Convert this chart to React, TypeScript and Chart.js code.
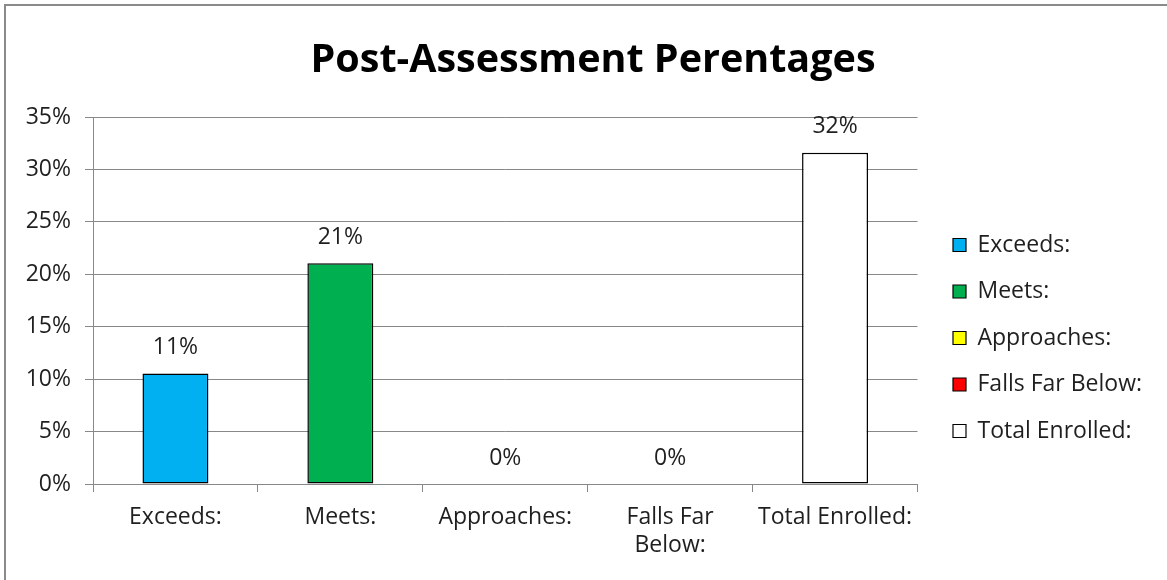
import React, { useEffect, useRef } from "react";
import { Chart, registerables } from "chart.js";

Chart.register(...registerables);

const categories = ["Exceeds:", "Meets:", "Approaches:", "Falls Far Below:", "Total Enrolled:"];
const tickLabels: (string | string[])[] = ["Exceeds:", "Meets:", "Approaches:", ["Falls Far", "Below:"], "Total Enrolled:"];
const values = [0.1053, 0.2105, 0, 0, 0.3158];
const barColors = ["#00B0F0", "#00B050", "#FFFF00", "#FF0000", "#FFFFFF"];
const yTicks = [0, 0.05, 0.1, 0.15, 0.2, 0.25, 0.3, 0.35];
const titleText = "Post-Assessment Perentages";

const FONT = "'Open Sans', 'Noto Sans', sans-serif";
const TEXT_SIZE = 23;
const TEXT_COLOR = "#1f1f1f";

const valueLabels = {
  id: "valueLabels",
  afterDatasetsDraw(chart: any) {
    const ctx = chart.ctx;
    const meta = chart.getDatasetMeta(0);
    ctx.save();
    ctx.font = `${TEXT_SIZE}px ${FONT}`;
    ctx.fillStyle = TEXT_COLOR;
    ctx.textAlign = "center";
    ctx.textBaseline = "middle";
    meta.data.forEach((bar: any, i: number) => {
      const v = values[i];
      ctx.fillText(Math.round(v * 100) + "%", bar.x, bar.y - 26);
    });
    ctx.restore();
  },
};

const boxShift = {
  id: "boxShift",
  afterLayout(chart: any) {
    const lg = chart.legend;
    if (lg) {
      lg.left += 12;
      lg.right += 12;
      lg.top += 2;
      lg.bottom += 2;
    }
    const tb = chart.titleBlock;
    if (tb) {
      tb.left += 23;
      tb.right += 23;
    }
  },
};

export default function App() {
  const ref = useRef<HTMLCanvasElement | null>(null);
  useEffect(() => {
    if (!ref.current) return;
    const chart = new Chart(ref.current, {
      type: "bar",
      data: {
        labels: tickLabels as any,
        datasets: [
          {
            data: values,
            backgroundColor: barColors,
            borderColor: "#000000",
            borderWidth: 1.5,
            borderSkipped: false,
            barPercentage: 0.4,
            categoryPercentage: 1,
          },
        ],
      },
      plugins: [valueLabels, boxShift],
      options: {
        animation: false,
        responsive: false,
        maintainAspectRatio: false,
        layout: { padding: { left: 0, right: 27, top: 0, bottom: 0 } },
        plugins: {
          title: {
            display: true,
            text: titleText,
            color: "#000",
            font: { family: FONT, size: 39.5, weight: "bold" },
            padding: { top: 37, bottom: 32.6 },
          },
          legend: {
            display: true,
            position: "right",
            title: {
              display: true,
              text: " ",
              font: { size: 10 },
              padding: { top: 80, bottom: 0 },
            },
            labels: {
              color: TEXT_COLOR,
              font: { family: FONT, size: TEXT_SIZE },
              boxWidth: 13,
              boxHeight: 13,
              padding: 23.5,
              generateLabels: () =>
                categories.map((c, i) => ({
                  text: c,
                  fillStyle: barColors[i],
                  strokeStyle: "#000",
                  fontColor: TEXT_COLOR,
                  lineWidth: 1.2,
                  hidden: false,
                  index: i,
                  datasetIndex: 0,
                })),
            },
          },
          tooltip: { enabled: false },
        },
        scales: {
          x: {
            afterFit: (scale: any) => {
              scale.height = 96;
            },
            grid: {
              offset: true,
              drawOnChartArea: false,
              drawTicks: true,
              tickLength: 8,
              color: "#888",
            },
            border: { color: "#888", width: 1 },
            ticks: {
              color: TEXT_COLOR,
              font: { family: FONT, size: TEXT_SIZE },
              padding: 12,
              maxRotation: 0,
              autoSkip: false,
            },
          },
          y: {
            min: 0,
            max: 0.35,
            afterBuildTicks: (scale: any) => {
              scale.ticks = yTicks.map((v) => ({ value: v }));
            },
            afterFit: (scale: any) => {
              scale.width = 93;
            },
            grid: { color: "#888", tickLength: 8, lineWidth: 1 },
            border: { color: "#888", width: 1 },
            ticks: {
              color: TEXT_COLOR,
              font: { family: FONT, size: TEXT_SIZE },
              padding: 14,
              callback: (v: any) => Math.round(Number(v) * 100) + "%",
            },
          },
        },
      },
    });
    return () => chart.destroy();
  }, []);
  return (
    <div style={{ position: "fixed", left: 0, top: 0, width: 1167, height: 580, background: "#fff" }}>
      <canvas ref={ref} width={1167} height={580} style={{ position: "absolute", left: 0, top: 0 }} />
      <div
        style={{
          position: "absolute",
          left: 4,
          top: 4,
          right: 0,
          bottom: 0,
          borderTop: "2px solid #8a8a8a",
          borderLeft: "2px solid #8a8a8a",
          pointerEvents: "none",
        }}
      />
    </div>
  );
}
